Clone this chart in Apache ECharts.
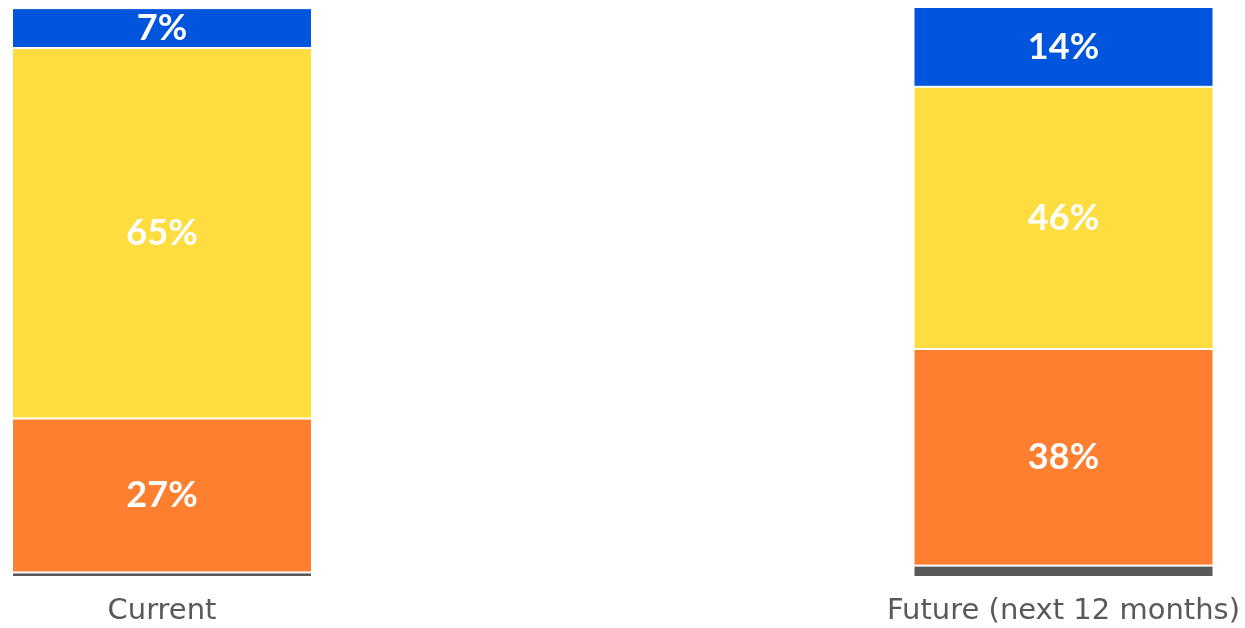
<!DOCTYPE html>
<html>
<head>
<meta charset="utf-8">
<script src="https://cdn.jsdelivr.net/npm/echarts@6/dist/echarts.min.js"></script>
<style>
  html, body { margin: 0; padding: 0; background: #fff; }
  #main { width: 1245px; height: 628px; }
</style>
</head>
<body>
<div id="main"></div>
<script>
var categories = ["Current", "Future (next 12 months)"];
var grayValues = [0.8, 2];
var orangeValues = [27, 38];
var yellowValues = [65, 46];
var blueValues = [7, 14];

var myChart = echarts.init(document.getElementById("main"));

var barLabel = {
  show: true,
  position: "inside",
  color: "#fff",
  fontFamily: "Lato",
  fontWeight: "bold",
  fontSize: 36,
  formatter: "{c}%",
};

function makeSeries(name, data, color, withLabel) {
  return {
    name: name,
    type: "bar",
    stack: "total",
    barWidth: 300,
    clip: false,
    data: data,
    itemStyle: { color: color, borderColor: "#fff", borderWidth: 1 },
    label: withLabel ? barLabel : { show: false },
  };
}

var option = {
  animation: false,
  grid: { left: 162, right: 181.5, top: 7, bottom: 51 },
  xAxis: {
    type: "category",
    data: categories,
    boundaryGap: false,
    axisLine: { show: false },
    axisTick: { show: false },
    axisLabel: {
      color: "#595959",
      fontFamily: "DejaVu Sans",
      fontSize: 29,
      margin: 20,
    },
  },
  yAxis: {
    type: "value",
    min: 0,
    max: 100,
    show: false,
  },
  series: [
    makeSeries("gray", grayValues, "#595959", false),
    makeSeries("orange", orangeValues, "#FE7F2F", true),
    makeSeries("yellow", yellowValues, "#FDDD3F", true),
    makeSeries("blue", blueValues, "#0055DC", true),
  ],
};

myChart.setOption(option);
</script>
</body>
</html>
